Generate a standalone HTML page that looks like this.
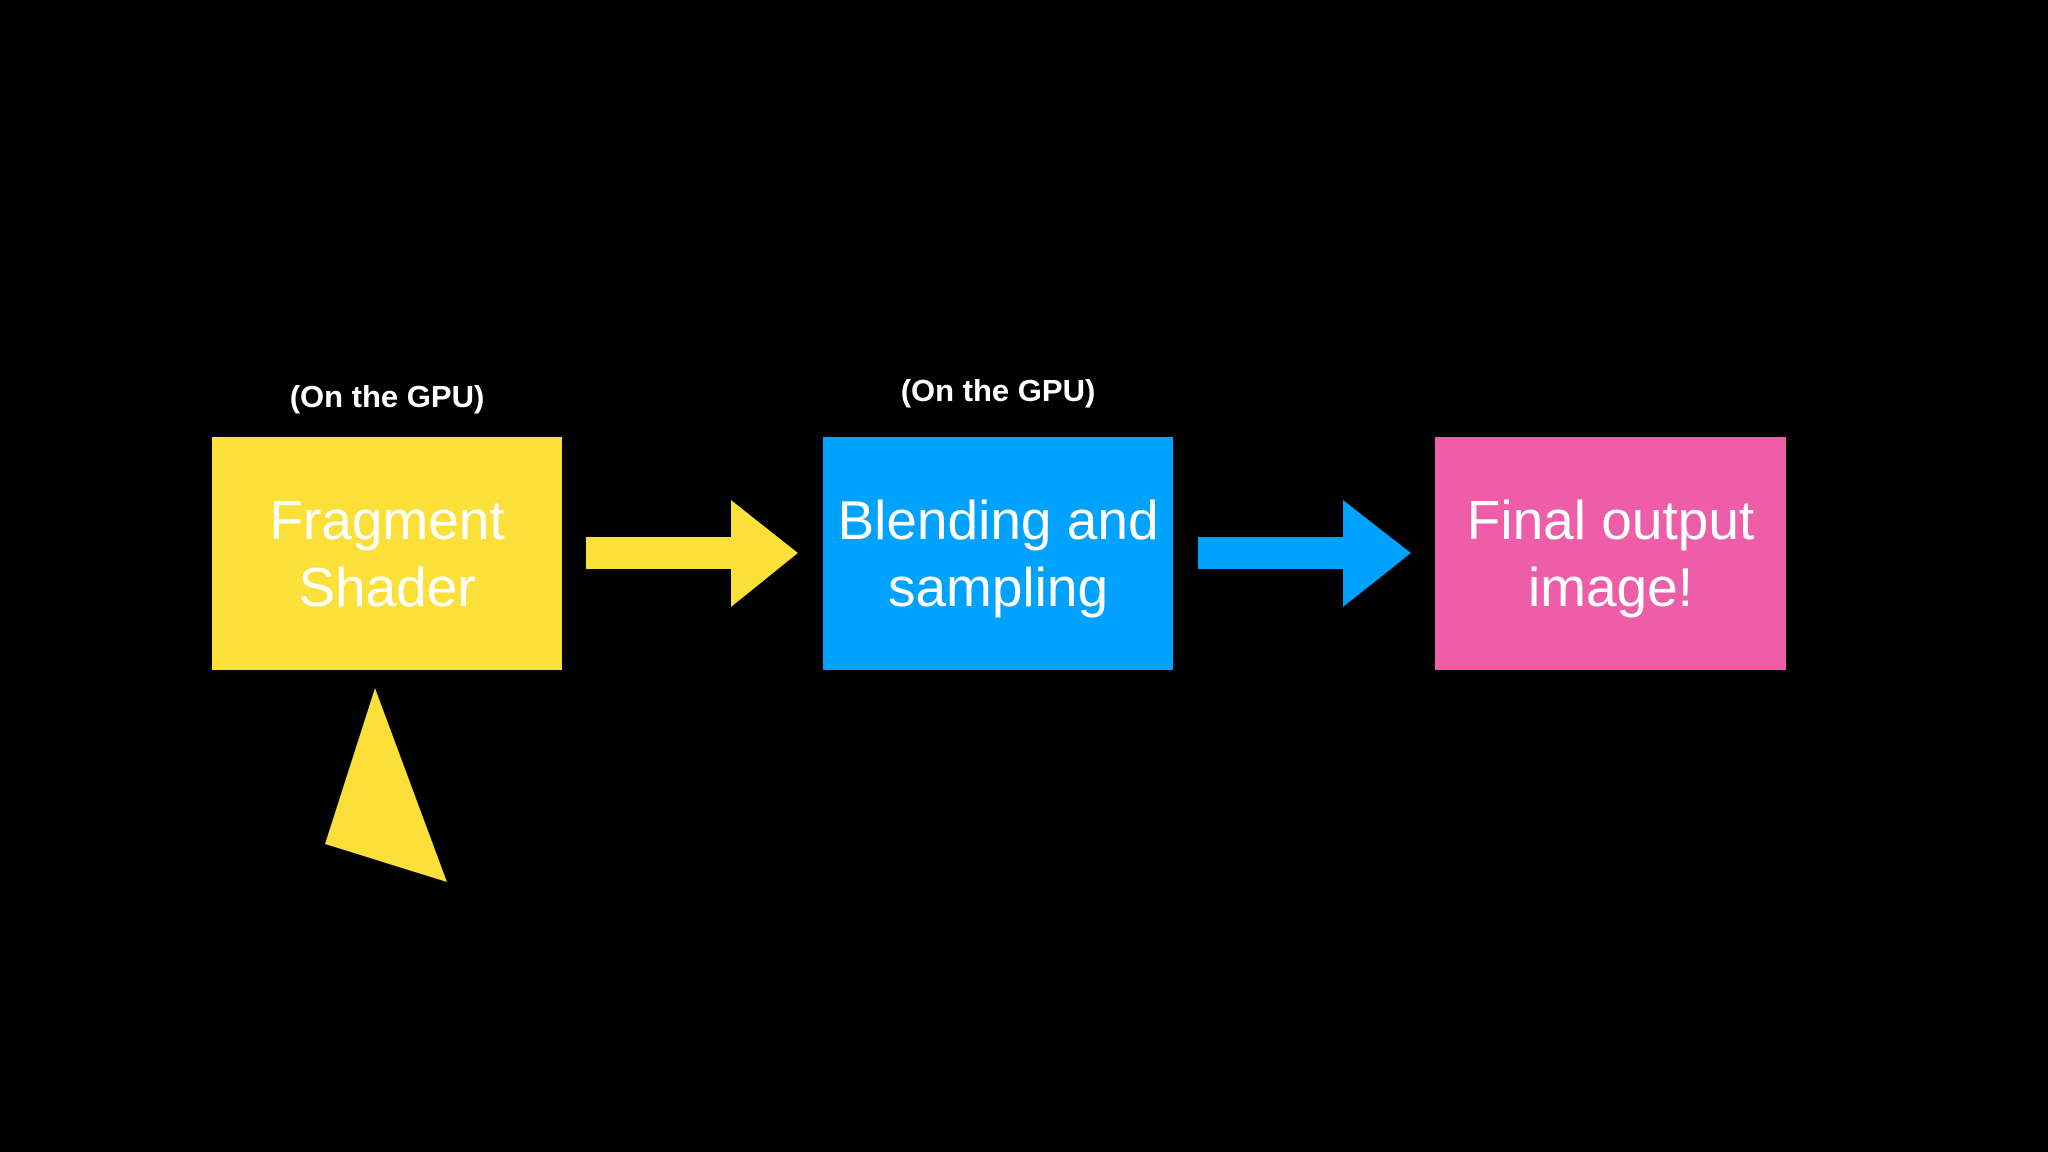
<!DOCTYPE html>
<html><head><meta charset="utf-8"><style>
html,body{margin:0;padding:0;background:#000;}
body{width:2048px;height:1152px;position:relative;overflow:hidden;font-family:"Liberation Sans",sans-serif;}
.box{position:absolute;top:437px;height:233px;width:350px;color:#fff;font-size:55px;line-height:67px;display:flex;align-items:center;justify-content:center;text-align:center;}
.lab{position:absolute;color:#fff;font-weight:bold;font-size:31px;width:400px;text-align:center;}
</style></head><body>
<div class="lab" style="left:187px;top:379px;">(On the GPU)</div>
<div class="lab" style="left:798px;top:373px;">(On the GPU)</div>
<div class="box" style="left:212px;background:#FBE03A;">Fragment<br>Shader</div>
<div class="box" style="left:823px;background:#00A2FF;">Blending and<br>sampling</div>
<div class="box" style="left:1435px;background:#EE5EA8;width:351px;">Final output<br>image!</div>
<svg width="2048" height="1152" style="position:absolute;left:0;top:0">
<polygon points="586,537 731,537 731,500 798,553 731,607 731,569 586,569" fill="#FBE03A"/>
<polygon points="1198,537 1343,537 1343,500 1411,553 1343,607 1343,569 1198,569" fill="#00A2FF"/>
<polygon points="375,688 325,844 447,882" fill="#FBE03A"/>
</svg>
</body></html>
